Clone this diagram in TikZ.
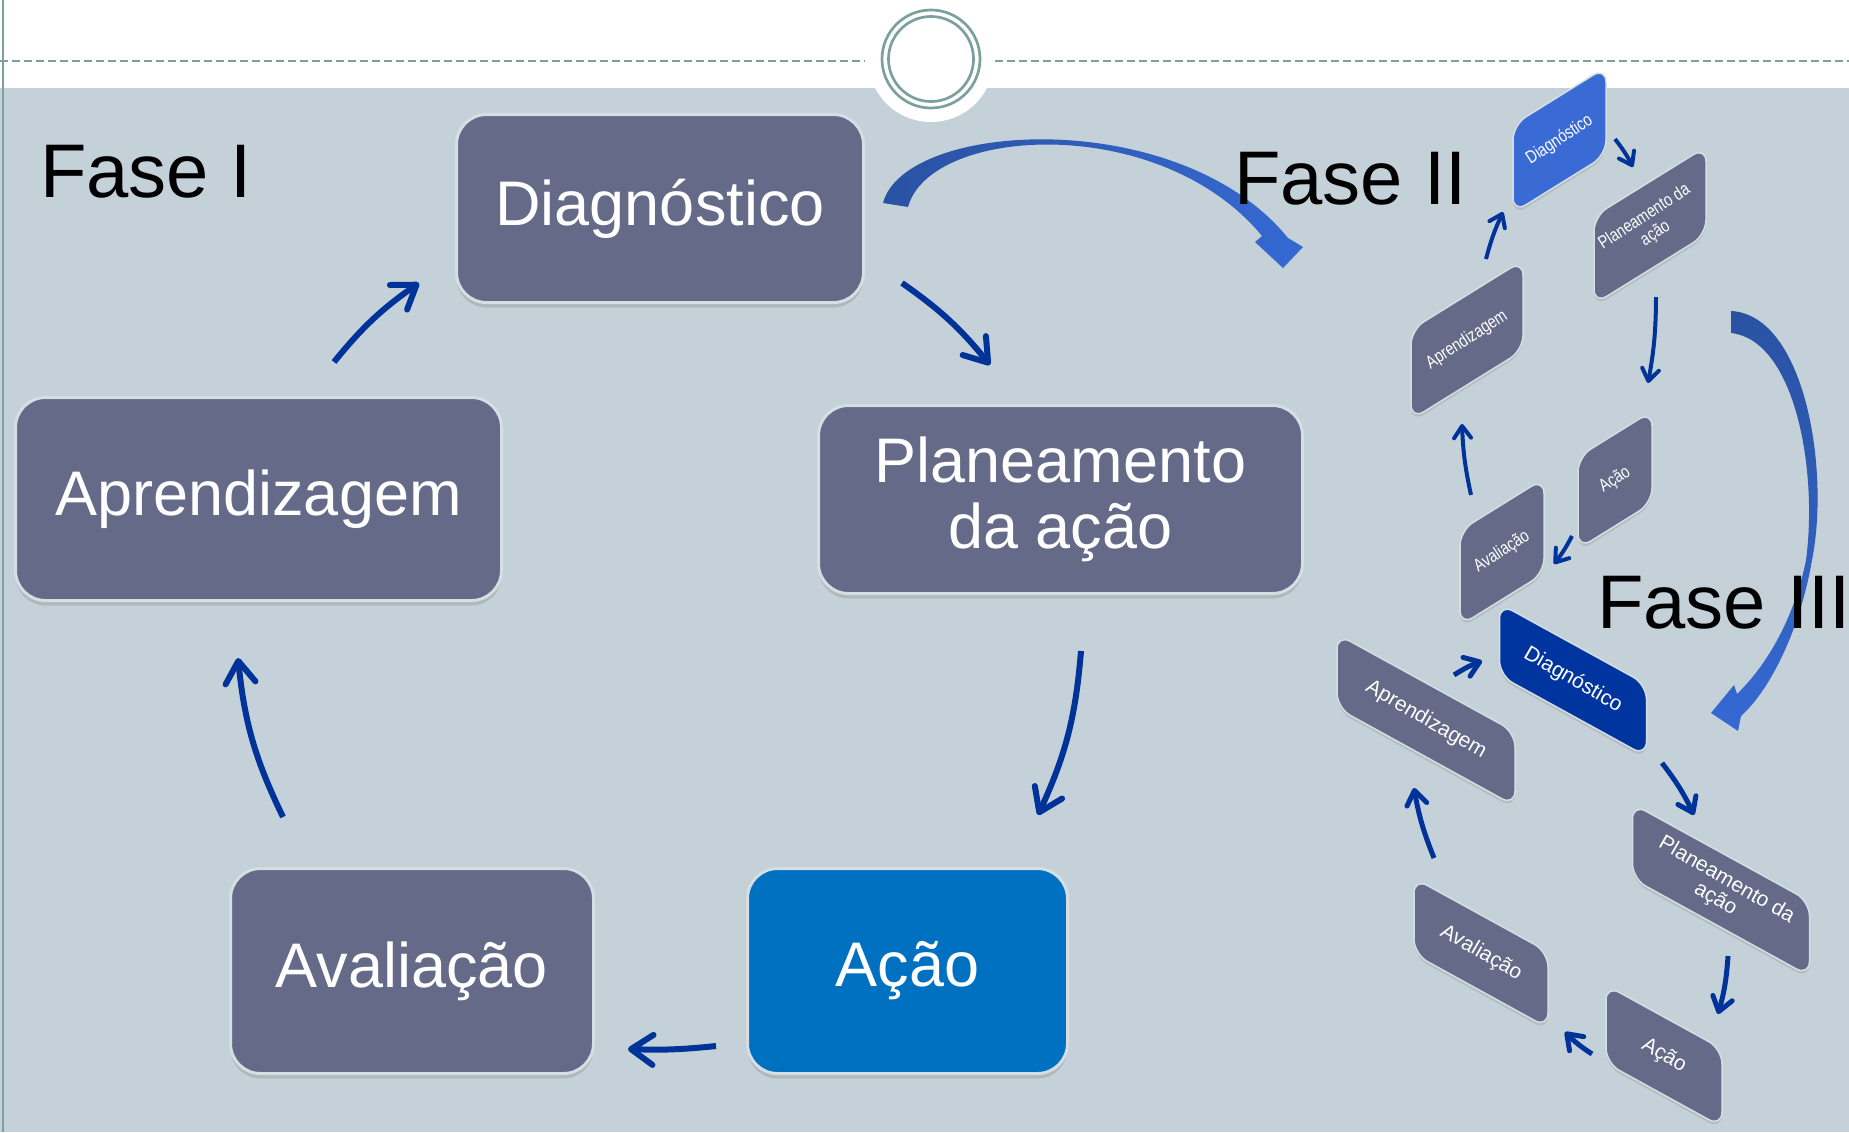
\documentclass[tikz,border=0pt]{standalone}
\usepackage{fontspec}
\setmainfont{Liberation Sans}
\usetikzlibrary{arrows.meta,calc,shadows}
\definecolor{bg}{HTML}{C5D1D8}
\definecolor{slate}{HTML}{646A87}
\definecolor{rim}{HTML}{D5DEE2}
\definecolor{acaoblue}{HTML}{0070C0}
\definecolor{arrowblue}{HTML}{003399}
\definecolor{ring}{HTML}{7BA09D}
\definecolor{diagtwo}{HTML}{3A6BD5}
\definecolor{diagthree}{HTML}{0035A0}
\definecolor{arcdark}{HTML}{2A52A3}
\definecolor{arclight}{HTML}{3569D2}
\tikzset{
	stagebox/.style={fill=slate, draw=rim, line width=3pt, rounded corners=30pt, text=white, align=center, inner sep=0pt,
		font=\fontsize{63}{66}\selectfont, drop shadow={shadow xshift=0pt, shadow yshift=-5pt, opacity=0.3}},
	minibox/.style={fill=slate, draw=rim, line width=1.5pt, rounded corners=15pt, inner sep=0pt,
		drop shadow={shadow xshift=0pt, shadow yshift=-3pt, opacity=0.25}},
	minitext/.style={text=white, align=center, inner sep=0pt},
	cyclearrow/.style={arrowblue, line width=6pt, -{Straight Barb[length=22pt,width=30pt,round]}},
	twoarrow/.style={arrowblue, line width=4pt, -{Straight Barb[length=12pt,width=17pt,round]}},
	threearrow/.style={arrowblue, line width=5pt, -{Straight Barb[length=14pt,width=20pt,round]}},
	fase/.style={anchor=base west, inner sep=0pt, font=\fontsize{76}{80}\selectfont}
}
\begin{document}
\begin{tikzpicture}[x=1pt,y=-1pt]
		\useasboundingbox (0,0) rectangle (1849,1132);
		\fill[bg] (0,88) rectangle (1849,1132);
		\fill[white] (0,0) rectangle (1849,88);
		\draw[ring, line width=2pt] (2.5,0) -- (2.5,1132);
		\draw[ring, line width=2pt, dash pattern=on 8pt off 4pt] (0,61) -- (865,61) (995,61) -- (1849,61);
		\fill[white] (931,59) circle[radius=63pt];
		\foreach \r in {49,42.5}{
			\draw[ring, line width=2.7pt] (931,59) circle[radius=\r pt];
		}
		
		% big arrows between the phases
		\shade[left color=arcdark, right color=arclight] (883,203) .. controls (905,120) and (1180,105) .. (1288,238) -- (1303,247) -- (1283,268) -- (1255,242) -- (1262,236) .. controls (1160,112) and (930,126) .. (908,207) -- cycle;
		\shade[top color=arcdark, bottom color=arclight] (1731,311) .. controls (1805,315) and (1830,470) .. (1812,560) .. controls (1800,630) and (1770,690) .. (1741,716) -- (1738,731) -- (1711,713) -- (1734,685) -- (1737,694) .. controls (1772,660) and (1796,610) .. (1806,560) .. controls (1818,470) and (1795,340) .. (1731,333) -- cycle;
		
		% Fase I
		\node[stagebox, minimum width=407pt, minimum height=188pt] (diag) at (660,208.5) {Diagnóstico};
		\node[stagebox, minimum width=484pt, minimum height=188pt] (plan) at (1060.5,499.5) {Planeamento\\da ação};
		\node[stagebox, minimum width=486pt, minimum height=203pt] (aprend) at (258.5,499) {Aprendizagem};
		\node[stagebox, minimum width=363pt, minimum height=205pt] (aval) at (412,971) {Avaliação};
		\node[stagebox, fill=acaoblue, minimum width=320pt, minimum height=205pt] (acao) at (907.5,971) {Ação};
		\foreach \a/\da/\b/\db/\k in {aprend/{75.5,-137}/diag/{-241,74.5}/8, diag/{242,74.5}/plan/{-70.5,-134.5}/8, plan/{20.5,151.5}/acao/{130.5,-156}/10, acao/{-191.5,75}/aval/{216,78}/4, aval/{-129,-154}/aprend/{-20.5,159}/10}{
			\draw[cyclearrow] ($(\a)+(\da)$) to[bend left=\k] ($(\b)+(\db)$);
		}
		
		% Fase II
		\foreach \n/\x/\y/\w/\h/\c in {d2/1559.5/140/93/88/diagtwo, p2/1650/225.5/112/88/slate, a2/1467/340/112/90/slate, c2/1615/480/74/92/slate, v2/1502/552/84/95/slate}{
			\node[minibox, fill=\c, yslant=0.62, minimum width=\w pt, minimum height=\h pt] (\n) at (\x,\y) {};
		}
		\foreach \n/\t in {d2/Diagnóstico, p2/{Planeamento da\\ação}, a2/Aprendizagem, c2/Ação, v2/Avaliação}{
			\node[minitext, font=\fontsize{18}{20}\selectfont, rotate=33, xscale=0.8] (\n-t) at (\n) {\t};
		}
		\foreach \a/\da/\b/\db in {a2/{19,-81}/d2/{-56.5,72}, d2/{55.5,-1}/p2/{-17,-58.5}, p2/{6,71.5}/c2/{33,-97}, c2/{-43,56}/v2/{52,12}, v2/{-31,-57}/a2/{-5,84}}{
			\draw[twoarrow] ($(\a)+(\da)$) to[bend left=5] ($(\b)+(\db)$);
		}
		
		% Fase III
		\foreach \n/\x/\y/\w/\h/\c in {d3/1573/680/147/72/diagthree, a3/1426/720/178/74/slate, p3/1721/890/177/75/slate, v3/1481/953/134/76/slate, c3/1664/1056/116/78/slate}{
			\node[minibox, fill=\c, yslant=-0.55, minimum width=\w pt, minimum height=\h pt] (\n) at (\x,\y) {};
		}
		\foreach \n/\t in {d3/Diagnóstico, p3/{Planeamento da\\ação}, a3/Aprendizagem, c3/Ação, v3/Avaliação}{
			\node[minitext, font=\fontsize{21}{22}\selectfont, rotate=-30] (\n-t) at (\n) {\t};
		}
		\foreach \a/\da/\b/\db in {a3/{28,-45}/d3/{-91,-19}, d3/{89,83}/p3/{-27,-75}, p3/{7,66}/c3/{54,-42}, c3/{-72,-2}/v3/{84,79}, v3/{-47,-95}/a3/{-12,68}}{
			\draw[threearrow] ($(\a)+(\da)$) to[bend left=6] ($(\b)+(\db)$);
		}
		
		\node[fase] (f1) at (40,197) {Fase I};
		\node[fase] (f2) at (1234,204) {Fase II};
		\node[fase] (f3) at (1597,628) {Fase III};
		\end{tikzpicture}
\end{document}
